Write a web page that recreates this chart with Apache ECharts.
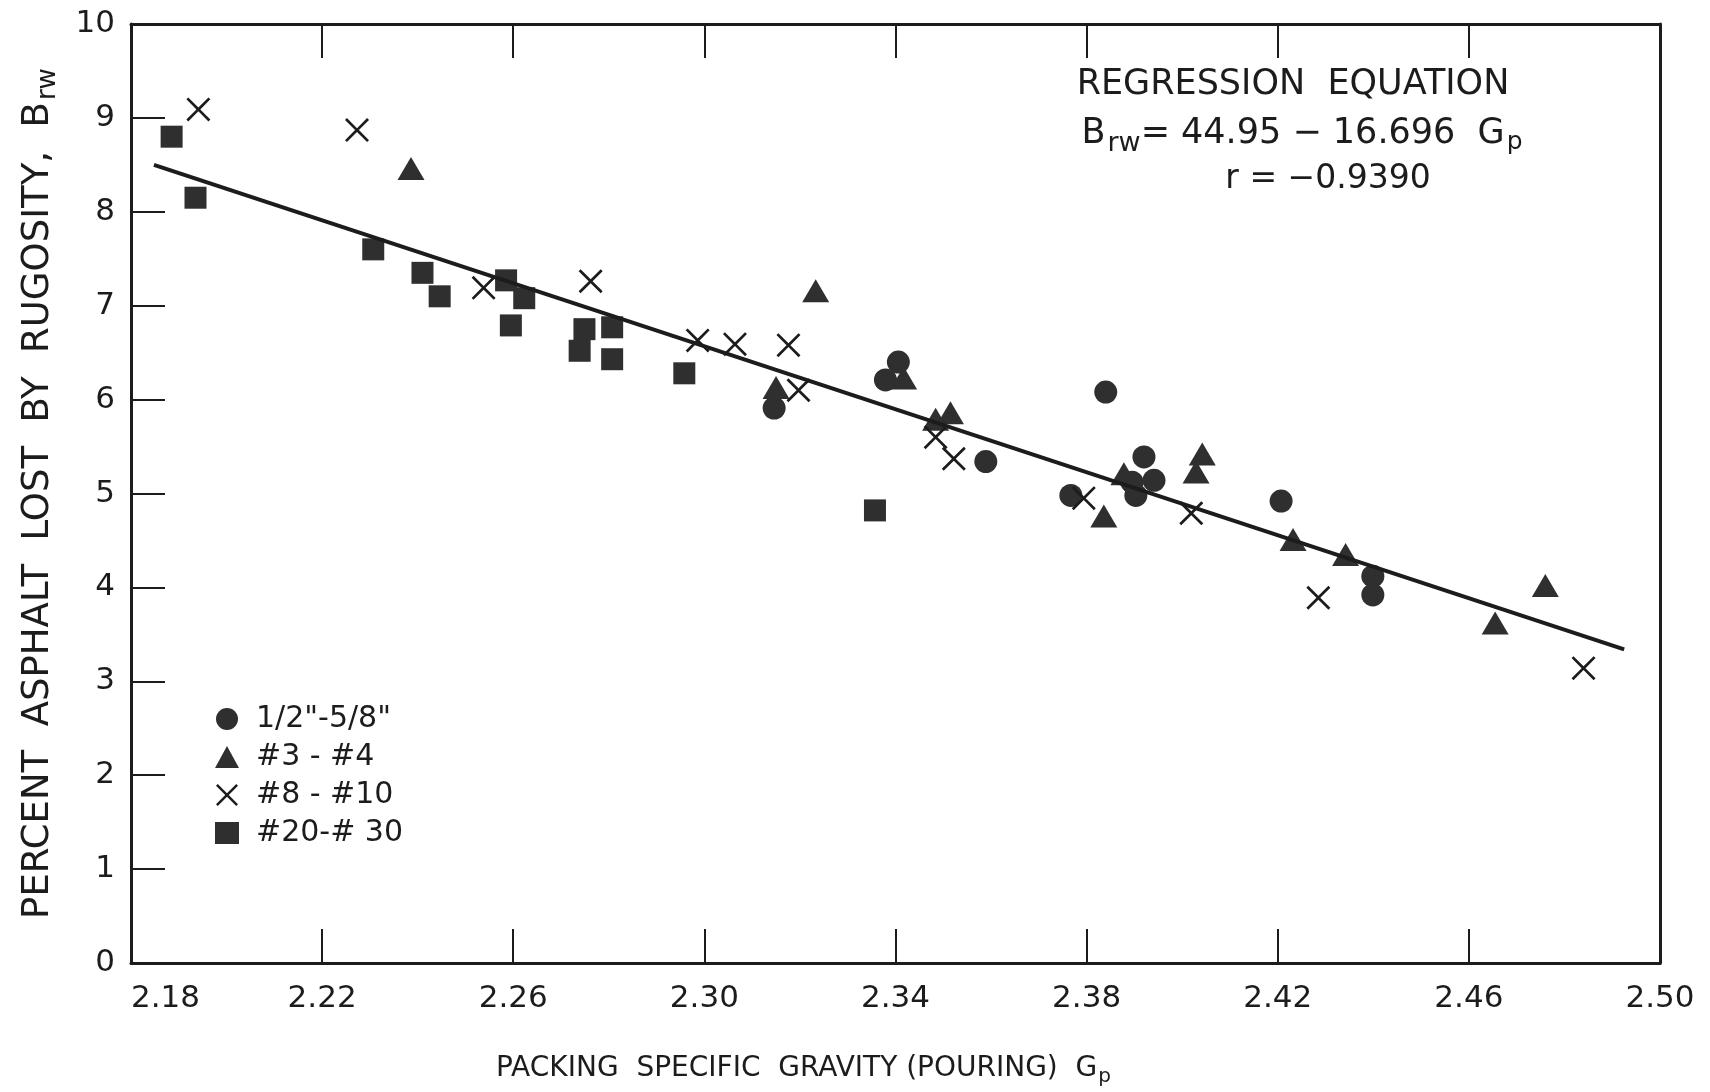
<!DOCTYPE html>
<html>
<head>
<meta charset="utf-8">
<script src="https://cdn.jsdelivr.net/npm/echarts@6/dist/echarts.min.js"></script>
<style>
html,body{margin:0;padding:0;background:#fff;}
#chart{width:1710px;height:1092px;}
</style>
</head>
<body>
<div id="chart"></div>
<script>
// Packing specific gravity (Gp) vs percent asphalt lost by rugosity (Brw)
const seriesNames = ['1/2"-5/8"', '#3 - #4', '#8 - #10', '#20-# 30'];

const circlesData = [
  [2.3146, 5.91], [2.3406, 6.40], [2.3379, 6.21], [2.3589, 5.34], [2.3840, 6.08],
  [2.3767, 4.98], [2.3920, 5.39], [2.3941, 5.14], [2.3895, 5.12], [2.3903, 4.98],
  [2.4207, 4.92], [2.4399, 4.12], [2.4399, 3.92]
];
const trianglesData = [
  [2.2386, 8.46], [2.3233, 7.16], [2.3150, 6.13], [2.3417, 6.23], [2.3484, 5.79],
  [2.3515, 5.86], [2.3836, 4.76], [2.3878, 5.21], [2.4029, 5.23], [2.4042, 5.42],
  [2.4232, 4.51], [2.4342, 4.35], [2.4655, 3.62], [2.4760, 4.02]
];
const crossesData = [
  [2.1941, 9.09], [2.2273, 8.87], [2.2538, 7.19], [2.2762, 7.26], [2.2986, 6.63],
  [2.3064, 6.59], [2.3176, 6.58], [2.3197, 6.10], [2.3484, 5.60], [2.3522, 5.37],
  [2.3794, 4.95], [2.4019, 4.79], [2.4285, 3.89], [2.4840, 3.14]
];
const squaresData = [
  [2.1885, 8.80], [2.1935, 8.15], [2.2307, 7.60], [2.2410, 7.35], [2.2446, 7.10],
  [2.2585, 7.27], [2.2595, 6.79], [2.2623, 7.08], [2.2749, 6.75], [2.2739, 6.52],
  [2.2807, 6.77], [2.2807, 6.43], [2.2958, 6.28], [2.3357, 4.82]
];
// regression line endpoints as drawn
const fitLineData = [[2.1848, 8.50], [2.4925, 3.34]];

const xTickLabels = ['2.18', '2.22', '2.26', '2.30', '2.34', '2.38', '2.42', '2.46', '2.50'];
const yTickLabels = ['0', '1', '2', '3', '4', '5', '6', '7', '8', '9', '10'];

const FONT = "'DejaVu Sans', sans-serif";
const INK = '#1c1c1c';
const MARK = '#2f2f2f';
const crossPath = 'path://M0,0.8L0.8,0L5,4.2L9.2,0L10,0.8L5.8,5L10,9.2L9.2,10L5,5.8L0.8,10L0,9.2L4.2,5Z';

const chart = echarts.init(document.getElementById('chart'), null, {renderer: 'canvas'});

function xBase() {
  return {
    type: 'value', min: 2.18, max: 2.50, interval: 0.04,
    axisLine: {show: true, onZero: false, lineStyle: {color: INK, width: 3}},
    axisTick: {show: true, inside: true, length: 34, lineStyle: {color: INK, width: 2}},
    splitLine: {show: false}
  };
}

const option = {
  backgroundColor: '#ffffff',
  animation: false,
  textStyle: {fontFamily: FONT, color: INK},
  grid: {left: 131, right: 50, top: 24, bottom: 116, containLabel: false},
  legend: {
    orient: 'vertical', left: 210, top: 699,
    itemWidth: 24, itemHeight: 22, itemGap: 8,
    data: seriesNames,
    textStyle: {fontFamily: FONT, fontSize: 30, color: INK, padding: [0, 0, 0, 12]}
  },
  xAxis: [
    Object.assign(xBase(), {
      position: 'bottom',
      axisLabel: {
        show: true, margin: 20, fontFamily: FONT, fontSize: 31, color: INK,
        alignMinLabel: 'left',
        formatter: function (v) { return xTickLabels[Math.round((v - 2.18) / 0.04)]; }
      },
      name: '{m|PACKING  SPECIFIC  GRAVITY (POURING)  G}{sub|p}',
      nameLocation: 'middle', nameGap: 88,
      nameTextStyle: {
        padding: [0, 184, 0, 0],
        rich: {
          m: {fontFamily: FONT, fontSize: 28, color: INK},
          sub: {fontFamily: FONT, fontSize: 20, color: INK, padding: [16, 0, 0, 1]}
        }
      }
    }),
    Object.assign(xBase(), {
      position: 'top',
      axisLabel: {show: false}
    })
  ],
  yAxis: [
    {
      type: 'value', min: 0, max: 10, interval: 1, position: 'left',
      axisLine: {show: true, onZero: false, lineStyle: {color: INK, width: 3}},
      axisTick: {show: true, inside: true, length: 34, lineStyle: {color: INK, width: 2}},
      splitLine: {show: false},
      axisLabel: {
        margin: 16, fontFamily: FONT, fontSize: 31, color: INK,
        formatter: function (v) { return yTickLabels[Math.round(v)]; }
      },
      name: '{m|PERCENT  ASPHALT  LOST  BY  RUGOSITY,  B}{sub|rw}',
      nameLocation: 'middle', nameGap: 70, nameRotate: 90,
      nameTextStyle: {
        rich: {
          m: {fontFamily: FONT, fontSize: 37, color: INK},
          sub: {fontFamily: FONT, fontSize: 26, color: INK, padding: [20, 0, 0, 2]}
        }
      }
    },
    {
      type: 'value', min: 0, max: 10, interval: 1, position: 'right',
      axisLine: {show: true, onZero: false, lineStyle: {color: INK, width: 3}},
      axisTick: {show: false}, axisLabel: {show: false}, splitLine: {show: false}
    }
  ],
  graphic: [
    {
      type: 'text', x: 1293, y: 85, z: 100,
      style: {text: 'REGRESSION  EQUATION', font: '35px ' + FONT, fill: INK, align: 'center', verticalAlign: 'middle'}
    },
    {
      type: 'text', x: 1302, y: 134, z: 100,
      style: {
        text: '{m|B}{sub|rw}{m|= 44.95 \u2212 16.696  G}{sub2|p}',
        align: 'center', verticalAlign: 'middle',
        rich: {
          m: {fontFamily: FONT, fontSize: 35, fill: INK, color: INK},
          sub: {fontFamily: FONT, fontSize: 27, fill: INK, color: INK, padding: [20, 0, 0, 2]},
          sub2: {fontFamily: FONT, fontSize: 25, fill: INK, color: INK, padding: [16, 0, 0, 2]}
        }
      }
    },
    {
      type: 'text', x: 1328, y: 179, z: 100,
      style: {text: 'r = \u22120.9390', font: '33px ' + FONT, fill: INK, align: 'center', verticalAlign: 'middle'}
    }
  ],
  series: [
    {
      name: seriesNames[0], type: 'scatter', data: circlesData,
      symbol: 'circle', symbolSize: 23,
      itemStyle: {color: MARK, opacity: 1}
    },
    {
      name: seriesNames[1], type: 'scatter', data: trianglesData,
      symbol: 'triangle', symbolSize: [27, 23],
      itemStyle: {color: MARK, opacity: 1}
    },
    {
      name: seriesNames[2], type: 'scatter', data: crossesData,
      symbol: crossPath, symbolSize: 24,
      itemStyle: {color: INK, opacity: 1}
    },
    {
      name: seriesNames[3], type: 'scatter', data: squaresData,
      symbol: 'rect', symbolSize: 22,
      itemStyle: {color: MARK, opacity: 1}
    },
    {
      name: 'fit', type: 'line', data: fitLineData,
      showSymbol: false, symbol: 'none', silent: true,
      lineStyle: {color: INK, width: 4}, z: 3
    }
  ]
};

chart.setOption(option);
</script>
</body>
</html>
